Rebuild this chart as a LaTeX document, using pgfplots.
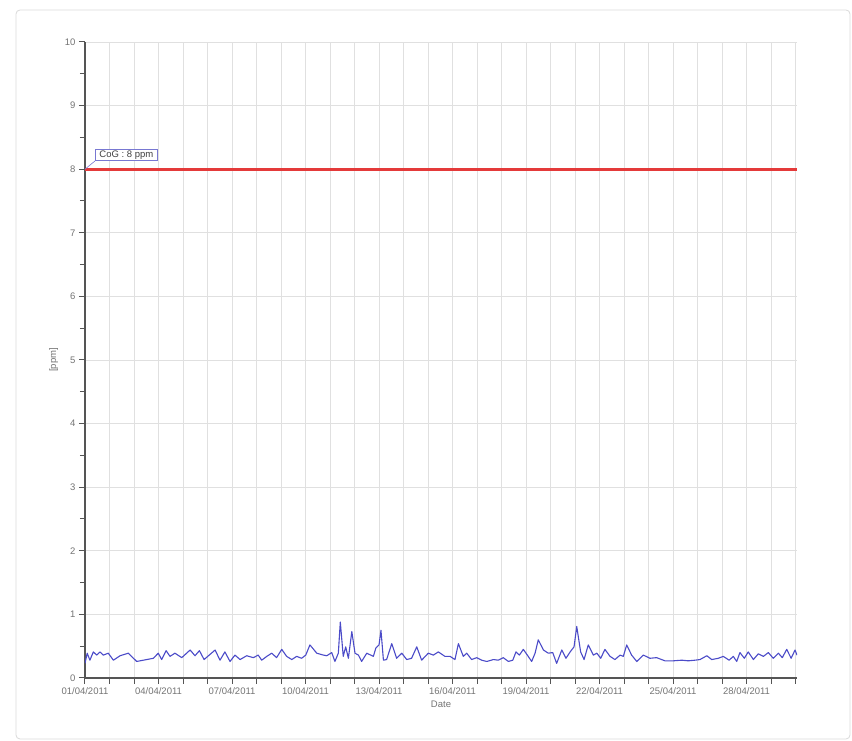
\documentclass[border=0pt]{standalone}
\usepackage{fontspec}
\setmainfont{Liberation Sans}
\usepackage{pgfplots}
\pgfplotsset{compat=1.18}

\definecolor{axgray}{RGB}{85,85,85}
\definecolor{gridgray}{RGB}{224,224,224}
\definecolor{lblgray}{RGB}{115,115,115}
\definecolor{limitred}{RGB}{228,58,58}
\definecolor{seriesblue}{RGB}{75,75,200}
\definecolor{boxblue}{RGB}{120,120,210}

\begin{document}
\begin{tikzpicture}
\begin{axis}[
    name=ax, at={(0,0)}, anchor=south west,
    scale only axis, width=712pt, height=636pt,
    xmin=0, xmax=29.06, ymin=0, ymax=10,
    enlargelimits=false,
    axis lines=left,
    axis line style={-, axgray, line width=1.5pt},
    xtick={0,...,29},
    xticklabels={01/04/2011,,,04/04/2011,,,07/04/2011,,,10/04/2011,,,13/04/2011,,,16/04/2011,,,19/04/2011,,,22/04/2011,,,25/04/2011,,,28/04/2011,,},
    ytick={0,...,10},
    minor y tick num=1,
    tick align=outside,
    major tick length=6pt, minor tick length=5pt,
    tick style={axgray, line width=1pt},
    grid=major,
    major grid style={gridgray, line width=0.8pt},
    /pgf/number format/assume math mode=true,
    ticklabel style={font=\fontsize{9.5}{11}\selectfont, text=lblgray},
    xlabel={Date}, ylabel={[ppm]},
    label style={font=\fontsize{9.5}{11}\selectfont, text=lblgray},
]
% limit value
\addplot[limitred, line width=3pt] coordinates {(0,8) (29.06,8)};

% measured CO
\addplot[seriesblue, line width=1.1pt, line join=round] coordinates {
(0,0.23) (0.09,0.39) (0.20,0.28) (0.34,0.41) (0.48,0.36) (0.61,0.41) (0.75,0.36)
(0.95,0.39) (1.16,0.28) (1.43,0.35) (1.77,0.39) (2.11,0.26) (2.52,0.29) (2.79,0.31)
(2.99,0.39) (3.13,0.29) (3.31,0.43) (3.47,0.34) (3.67,0.39) (3.95,0.32) (4.29,0.44)
(4.49,0.35) (4.67,0.43) (4.86,0.29) (5.07,0.36) (5.31,0.44) (5.51,0.28) (5.71,0.41)
(5.92,0.26) (6.12,0.36) (6.33,0.29) (6.60,0.35) (6.87,0.32) (7.07,0.36) (7.21,0.28)
(7.42,0.34) (7.62,0.39) (7.82,0.32) (8.03,0.45) (8.23,0.34) (8.44,0.29) (8.64,0.34)
(8.84,0.31) (9.01,0.36) (9.18,0.52) (9.46,0.39) (9.73,0.36) (9.87,0.35) (10.07,0.40)
(10.20,0.26) (10.34,0.39) (10.42,0.88) (10.54,0.34) (10.64,0.49) (10.75,0.31)
(10.89,0.73) (11.02,0.39) (11.16,0.36) (11.29,0.26) (11.50,0.39) (11.77,0.34)
(11.87,0.47) (12.00,0.52) (12.08,0.75) (12.18,0.28) (12.31,0.29) (12.52,0.54)
(12.72,0.31) (12.93,0.39) (13.13,0.29) (13.33,0.31) (13.54,0.49) (13.74,0.28)
(14.01,0.39) (14.22,0.36) (14.42,0.41) (14.69,0.34) (14.90,0.34) (15.10,0.29)
(15.24,0.54) (15.44,0.34) (15.58,0.39) (15.78,0.29) (15.99,0.32) (16.19,0.28)
(16.40,0.26) (16.67,0.29) (16.87,0.28) (17.07,0.32) (17.28,0.26) (17.46,0.28)
(17.59,0.41) (17.73,0.36) (17.89,0.45) (18.09,0.34) (18.23,0.26) (18.37,0.39)
(18.50,0.60) (18.71,0.44) (18.91,0.39) (19.09,0.40) (19.25,0.23) (19.46,0.44)
(19.63,0.31) (19.80,0.41) (19.96,0.49) (20.07,0.81) (20.23,0.41) (20.37,0.29)
(20.54,0.52) (20.75,0.36) (20.89,0.39) (21.05,0.31) (21.22,0.45) (21.43,0.34)
(21.63,0.29) (21.84,0.36) (21.97,0.34) (22.11,0.52) (22.31,0.36) (22.52,0.26)
(22.79,0.36) (23.06,0.31) (23.33,0.32) (23.67,0.27) (24.01,0.27) (24.36,0.28)
(24.62,0.27) (24.90,0.28) (25.10,0.29) (25.38,0.35) (25.58,0.29) (25.85,0.31)
(26.05,0.34) (26.29,0.28) (26.46,0.34) (26.60,0.26) (26.73,0.40) (26.91,0.31)
(27.07,0.41) (27.28,0.29) (27.48,0.38) (27.69,0.34) (27.89,0.40) (28.09,0.31)
(28.30,0.39) (28.46,0.32) (28.64,0.45) (28.82,0.31) (28.98,0.44) (29.06,0.36)
};

% label of the limit line
\draw[boxblue, line width=0.6pt] (axis cs:0,8) -- (axis cs:0.41,8.13);
\node[draw=boxblue, line width=0.8pt, fill=white, anchor=south west,
      inner xsep=4pt, inner ysep=1.5pt, text=black!75,
      font=\fontsize{9.5}{11}\selectfont] at (axis cs:0.41,8.13) {CoG : 8 ppm};
\end{axis}

% outer frame
\draw[gray!30, rounded corners=4pt, line width=0.8pt] (-69pt,-61pt) rectangle (765pt,668pt);
\pgfresetboundingbox
\path[use as bounding box] (-85pt,-63pt) rectangle (767pt,678pt);
\end{tikzpicture}
\end{document}
